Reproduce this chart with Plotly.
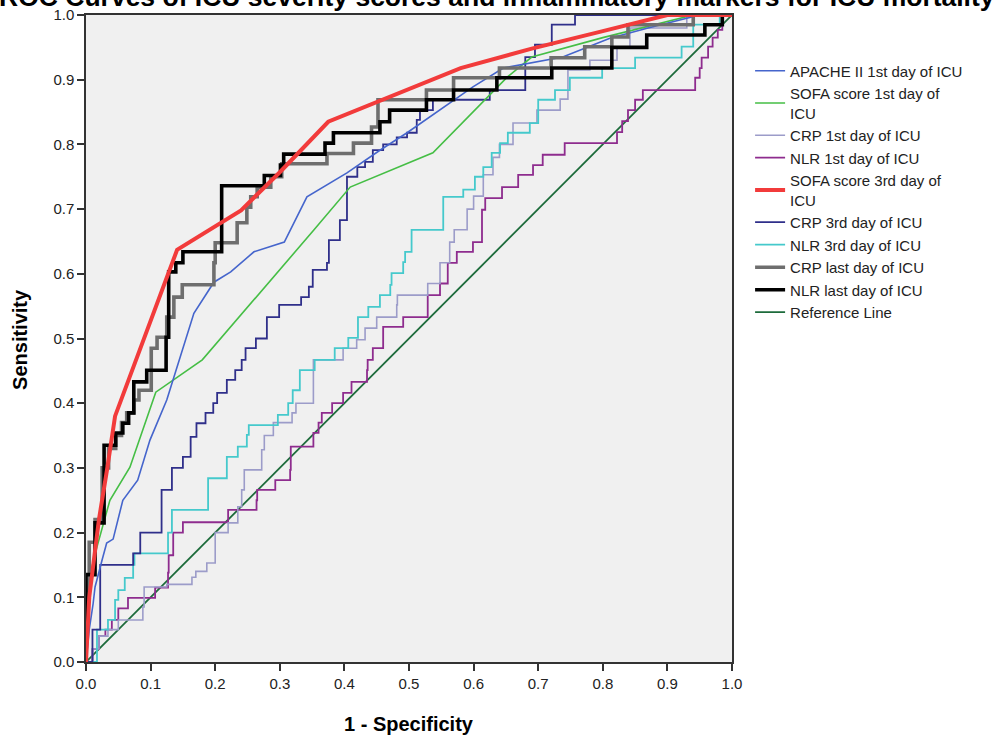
import plotly.graph_objects as go

TITLE = "ROC Curves of ICU severity scores and inflammatory markers for ICU mortality"
X_LABEL = "1 - Specificity"
Y_LABEL = "Sensitivity"
TICK_VALS = [0.0, 0.1, 0.2, 0.3, 0.4, 0.5, 0.6, 0.7, 0.8, 0.9, 1.0]
TICK_TEXT = ["0.0", "0.1", "0.2", "0.3", "0.4", "0.5", "0.6", "0.7", "0.8", "0.9", "1.0"]

SERIES_NAMES = [
    "APACHE II 1st day of ICU",
    "SOFA score 1st day of<br>ICU",
    "CRP 1st day of ICU",
    "NLR 1st day of ICU",
    "SOFA score 3rd day of<br>ICU",
    "CRP 3rd day of ICU",
    "NLR 3rd day of ICU",
    "CRP last day of ICU",
    "NLR last day of ICU",
    "Reference Line",
]

# APACHE II 1st day (1 - specificity, sensitivity)
apache1_fpr = [0, 0.005, 0.011, 0.014, 0.025, 0.032, 0.042, 0.057, 0.08, 0.099, 0.125, 0.167, 0.198, 0.224,
               0.26, 0.307, 0.342, 0.404, 0.455, 0.497, 0.599, 0.646, 0.738, 0.811, 0.87, 0.95, 1.0]
apache1_tpr = [0, 0.05, 0.09, 0.116, 0.158, 0.184, 0.19, 0.25, 0.281, 0.343, 0.405, 0.539, 0.587, 0.603,
               0.634, 0.649, 0.719, 0.756, 0.791, 0.818, 0.889, 0.918, 0.935, 0.964, 0.98, 1.0, 1.0]

# SOFA 1st day
sofa1_fpr = [0, 0.003, 0.01, 0.017, 0.037, 0.068, 0.108, 0.18, 0.353, 0.409, 0.537, 0.652, 0.69, 0.80, 0.94, 1.0]
sofa1_tpr = [0, 0.10, 0.15, 0.178, 0.25, 0.301, 0.417, 0.467, 0.668, 0.734, 0.787, 0.904, 0.935, 0.965, 1.0, 1.0]

# CRP 1st day (step points)
crp1_fpr = [0, 0.01, 0.02, 0.034, 0.05, 0.088, 0.09, 0.125, 0.164, 0.17, 0.187, 0.2, 0.22, 0.235, 0.241, 0.245,
            0.272, 0.276, 0.29, 0.319, 0.325, 0.352, 0.398, 0.419, 0.432, 0.45, 0.481, 0.482, 0.529, 0.548,
            0.563, 0.57, 0.59, 0.60, 0.615, 0.63, 0.64, 0.661, 0.698, 0.734, 0.746, 0.78, 0.822, 0.842, 0.93, 1.0]
crp1_tpr = [0, 0.02, 0.04, 0.05, 0.065, 0.085, 0.116, 0.12, 0.131, 0.14, 0.153, 0.2, 0.215, 0.24, 0.266, 0.297,
            0.328, 0.35, 0.37, 0.385, 0.40, 0.467, 0.485, 0.498, 0.516, 0.533, 0.552, 0.567, 0.585, 0.617,
            0.649, 0.668, 0.70, 0.72, 0.753, 0.78, 0.80, 0.833, 0.853, 0.87, 0.915, 0.93, 0.951, 0.98, 1.0, 1.0]

# NLR 1st day (step points)
nlr1_fpr = [0, 0.01, 0.02, 0.03, 0.04, 0.05, 0.065, 0.107, 0.127, 0.128, 0.135, 0.15, 0.22, 0.264, 0.265, 0.293,
            0.316, 0.317, 0.352, 0.36, 0.365, 0.381, 0.398, 0.411, 0.435, 0.436, 0.444, 0.46, 0.491, 0.529, 0.548,
            0.56, 0.574, 0.599, 0.613, 0.618, 0.644, 0.669, 0.692, 0.707, 0.741, 0.822, 0.83, 0.839, 0.85, 0.862,
            0.943, 0.95, 0.953, 0.963, 0.97, 0.978, 0.985, 1.0]
nlr1_tpr = [0, 0.02, 0.04, 0.05, 0.065, 0.083, 0.099, 0.115, 0.138, 0.165, 0.2, 0.216, 0.235, 0.25, 0.266, 0.281,
            0.297, 0.333, 0.354, 0.37, 0.385, 0.40, 0.416, 0.433, 0.451, 0.467, 0.485, 0.518, 0.533, 0.567, 0.585,
            0.617, 0.634, 0.649, 0.699, 0.717, 0.734, 0.753, 0.768, 0.784, 0.802, 0.819, 0.836, 0.853, 0.869, 0.884,
            0.903, 0.918, 0.934, 0.951, 0.965, 0.977, 1.0, 1.0]

# SOFA 3rd day
sofa3_fpr = [0, 0.005, 0.01, 0.02, 0.033, 0.045, 0.141, 0.24, 0.30, 0.375, 0.58, 0.69, 0.80, 0.90, 1.0]
sofa3_tpr = [0, 0.10, 0.14, 0.22, 0.30, 0.38, 0.637, 0.698, 0.757, 0.835, 0.918, 0.948, 0.975, 1.0, 1.0]

# CRP 3rd day (step points)
crp3_fpr = [0, 0.01, 0.022, 0.073, 0.084, 0.117, 0.133, 0.15, 0.162, 0.171, 0.185, 0.197, 0.203, 0.218, 0.231,
            0.241, 0.247, 0.263, 0.28, 0.299, 0.333, 0.345, 0.351, 0.373, 0.376, 0.393, 0.404, 0.42, 0.432, 0.444,
            0.46, 0.481, 0.497, 0.512, 0.517, 0.537, 0.625, 0.68, 0.695, 0.721, 0.757, 1.0]
crp3_tpr = [0, 0.05, 0.15, 0.168, 0.2, 0.266, 0.30, 0.317, 0.348, 0.369, 0.385, 0.40, 0.416, 0.436, 0.451,
            0.467, 0.485, 0.50, 0.533, 0.552, 0.564, 0.58, 0.606, 0.617, 0.652, 0.683, 0.75, 0.765, 0.773, 0.791,
            0.80, 0.811, 0.818, 0.838, 0.853, 0.869, 0.884, 0.935, 0.954, 0.985, 1.0, 1.0]

# NLR 3rd day (step points)
nlr3_fpr = [0, 0.017, 0.034, 0.045, 0.05, 0.06, 0.073, 0.075, 0.127, 0.133, 0.189, 0.218, 0.235, 0.249, 0.252,
            0.297, 0.313, 0.32, 0.331, 0.354, 0.385, 0.406, 0.421, 0.437, 0.455, 0.471, 0.473, 0.491, 0.494, 0.504,
            0.553, 0.584, 0.602, 0.615, 0.628, 0.641, 0.653, 0.687, 0.70, 0.726, 0.749, 0.799, 0.85, 0.922, 0.94,
            0.981, 1.0]
nlr3_tpr = [0, 0.05, 0.065, 0.096, 0.111, 0.13, 0.15, 0.168, 0.2, 0.235, 0.284, 0.317, 0.333, 0.351, 0.366,
            0.382, 0.40, 0.42, 0.451, 0.467, 0.485, 0.501, 0.533, 0.549, 0.567, 0.583, 0.601, 0.618, 0.634, 0.668,
            0.719, 0.73, 0.75, 0.765, 0.787, 0.802, 0.818, 0.833, 0.869, 0.884, 0.903, 0.918, 0.934, 0.951, 0.985,
            1.0, 1.0]

# CRP last day (step points)
crplast_fpr = [0, 0, 0.005, 0.014, 0.025, 0.035, 0.046, 0.055, 0.063, 0.074, 0.082, 0.101, 0.11, 0.125, 0.136,
               0.149, 0.198, 0.200, 0.234, 0.249, 0.255, 0.265, 0.286, 0.303, 0.373, 0.414, 0.442, 0.452, 0.527,
               0.569, 0.64, 0.72, 0.772, 0.814, 0.839, 0.94, 1.0]
crplast_tpr = [0, 0.10, 0.185, 0.22, 0.30, 0.33, 0.35, 0.37, 0.385, 0.405, 0.42, 0.485, 0.502, 0.533, 0.564,
               0.583, 0.617, 0.648, 0.679, 0.703, 0.719, 0.734, 0.75, 0.77, 0.786, 0.802, 0.827, 0.869, 0.884,
               0.903, 0.918, 0.934, 0.951, 0.966, 0.985, 1.0, 1.0]

# NLR last day (step points)
nlrlast_fpr = [0, 0, 0.014, 0.028, 0.046, 0.057, 0.066, 0.074, 0.094, 0.124, 0.128, 0.139, 0.150, 0.210, 0.276,
               0.301, 0.306, 0.370, 0.383, 0.455, 0.47, 0.527, 0.569, 0.636, 0.721, 0.814, 0.868, 0.958, 0.985, 1.0]
nlrlast_tpr = [0, 0.135, 0.215, 0.335, 0.354, 0.369, 0.385, 0.433, 0.451, 0.502, 0.603, 0.617, 0.634, 0.736, 0.752,
               0.768, 0.785, 0.802, 0.818, 0.835, 0.853, 0.869, 0.884, 0.903, 0.918, 0.95, 0.969, 0.985, 1.0, 1.0]

ref_fpr = [0, 1]
ref_tpr = [0, 1]

COLORS = ["#4565CC", "#45BE45", "#9C9CC9", "#8E2C8E", "#F23B3B", "#2F2F8A", "#45C9CC", "#6E6E6E", "#000000", "#1D6B3B"]
WIDTHS = [1.6, 1.6, 1.6, 1.8, 4.0, 1.8, 1.8, 3.6, 3.6, 1.8]
SHAPES = ["linear", "linear", "hv", "hv", "linear", "hv", "hv", "hv", "hv", "linear"]

data = [
    (apache1_fpr, apache1_tpr), (sofa1_fpr, sofa1_tpr), (crp1_fpr, crp1_tpr), (nlr1_fpr, nlr1_tpr),
    (sofa3_fpr, sofa3_tpr), (crp3_fpr, crp3_tpr), (nlr3_fpr, nlr3_tpr), (crplast_fpr, crplast_tpr),
    (nlrlast_fpr, nlrlast_tpr), (ref_fpr, ref_tpr),
]

draw_order = [9, 3, 2, 6, 5, 1, 0, 7, 8, 4]

FONT = "Arial, Liberation Sans, sans-serif"
fig = go.Figure()
for i in draw_order:
    xs, ys = data[i]
    fig.add_trace(go.Scatter(
        x=xs, y=ys, mode="lines", name=SERIES_NAMES[i],
        line=dict(color=COLORS[i], width=WIDTHS[i], shape=SHAPES[i]),
        legendrank=i + 1, hoverinfo="skip",
    ))

axis_common = dict(
    range=[0, 1], tickmode="array", tickvals=TICK_VALS, ticktext=TICK_TEXT,
    showgrid=False, zeroline=False, showline=True, mirror=True, automargin=False,
    linecolor="#333333", linewidth=1.5, ticks="outside", ticklen=7, tickwidth=1.5,
    tickcolor="#333333", tickfont=dict(family=FONT, size=15, color="#222222"),
)
fig.update_xaxes(**axis_common)
fig.update_yaxes(**axis_common)

fig.update_layout(
    width=999, height=742, autosize=False,
    margin=dict(l=86, r=267, t=15, b=80, autoexpand=False),
    paper_bgcolor="white", plot_bgcolor="#F0F0F0",
    showlegend=True,
    legend=dict(x=1.028, y=0.939, xanchor="left", yanchor="top",
                font=dict(family=FONT, size=15, color="#222222"),
                bgcolor="rgba(0,0,0,0)", itemwidth=30, tracegroupgap=0),
    annotations=[
        dict(text="<b>" + TITLE + "</b>", xref="paper", yref="paper", x=0.636, y=1.028,
             xanchor="center", yanchor="middle", showarrow=False,
             font=dict(family=FONT, size=26.5, color="#000000")),
        dict(text="<b>" + X_LABEL + "</b>", xref="paper", yref="paper", x=0.5, y=-0.096,
             xanchor="center", yanchor="middle", showarrow=False,
             font=dict(family=FONT, size=20, color="#000000")),
        dict(text="<b>" + Y_LABEL + "</b>", xref="paper", yref="paper", x=-0.102, y=0.498,
             xanchor="center", yanchor="middle", showarrow=False, textangle=-90,
             font=dict(family=FONT, size=20, color="#000000")),
    ],
)

fig.write_html("out.html", config={"displayModeBar": False},
               post_script="document.body.style.margin='0';document.body.style.overflow='hidden';")
